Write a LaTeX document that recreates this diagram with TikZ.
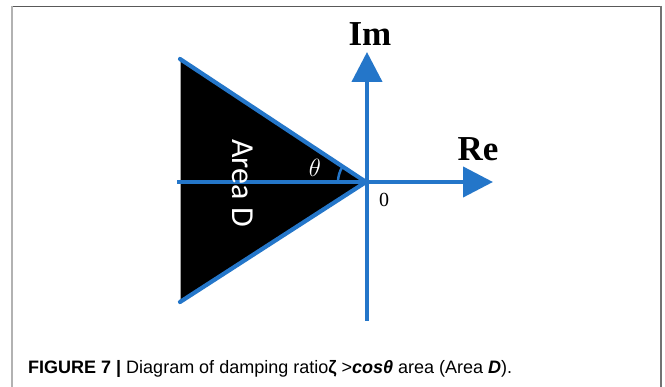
\documentclass[tikz,border=0pt]{standalone}
\usepackage{fontspec}
\setmainfont{Liberation Serif}
\newfontfamily\capfont{Liberation Sans}
\newfontfamily\areafont{Carlito}
\usetikzlibrary{arrows.meta,calc}
\definecolor{axisblue}{RGB}{36,118,201}
\tikzset{
  axis/.style={draw=axisblue, line width=4.2pt, -{Triangle[length=30pt,width=30pt]}},
  edge/.style={draw=axisblue, line width=4.2pt, line cap=round},
  axlabel/.style={font=\fontsize{35}{35}\selectfont\bfseries, anchor=base, inner sep=0pt},
}
\begin{document}
\begin{tikzpicture}[x=1pt,y=-1pt]
\useasboundingbox (0,0) rectangle (665,387);
\fill[white] (0,0) rectangle (665,387);
% frame
\draw[line width=1.5pt, black!65] (12,6.5) -- (661,6.5);
\draw[line width=2pt, black!30] (12,6) -- (12,387);
\draw[line width=1.5pt, black!55] (661,6) -- (661,387);
% coordinates
\coordinate (O) at (366,182);
\coordinate (TL) at (180,59);
\coordinate (BL) at (180,302);
\coordinate (L) at (177,182);
\coordinate (R) at (493,182);
\coordinate (B) at (367,321);
\coordinate (T) at (367,52);
\coordinate (A) at (338,182);
% triangle
\fill[black] (O) -- (TL) -- (BL) -- cycle;
\draw[black!35, line width=1pt] (TL) -- (BL);
% axes
\draw[axis] (L) -- (R);
\draw[axis] (B) -- (T);
\draw[edge] (O) -- (TL);
\draw[edge] (O) -- (BL);
\draw[draw=axisblue, line width=2.5pt] (A) arc[start angle=180, end angle=147, radius=28pt];
% labels
\node[axlabel] (im) at (370,46) {Im};
\node[axlabel] (re) at (478,161) {Re};
\node[font=\fontsize{20}{20}\selectfont] (zero) at (384,200) {0};
\node[font=\fontsize{24}{24}\selectfont, text=white] (theta) at (315,168) {$\theta$};
\node[font=\areafont\fontsize{32}{32}\selectfont, text=white, rotate=-90] (area) at (243,183) {Area D};
\node[anchor=base west, font=\capfont\fontsize{18}{18}\selectfont, inner sep=0pt] (cap) at (28,374)
  {\textbf{FIGURE 7 |} Diagram of damping ratio\textbf{ζ} >\textbf{\textit{cosθ}} area (Area \textbf{\textit{D}}).};
\end{tikzpicture}
\end{document}
